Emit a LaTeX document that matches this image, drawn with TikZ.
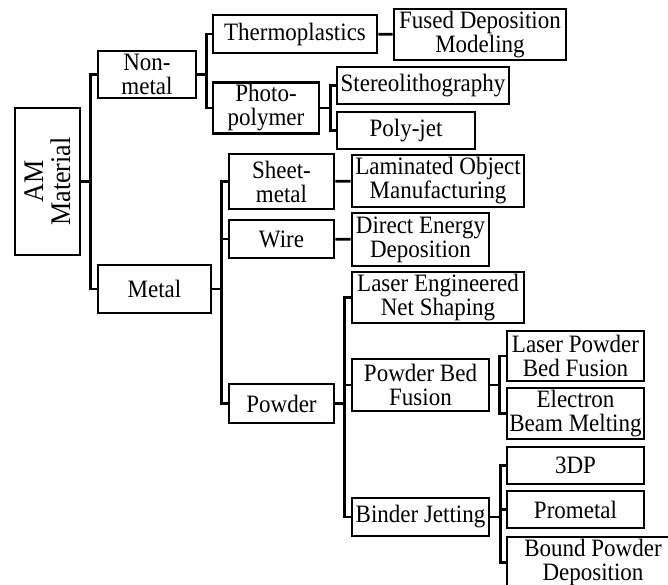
\documentclass[tikz,border=0pt]{standalone}
\usepackage{fontspec}
\setmainfont{Liberation Serif}[FakeStretch=0.92]
\usepackage{tikz}
\usetikzlibrary{positioning}

\begin{document}
\begin{tikzpicture}[
		x=0.5pt, y=-0.5pt,
		boite/.style={draw, line width=1.4pt, align=center, inner sep=1pt, font=\fontsize{12.5}{12}\selectfont},
		taille/.style 2 args={minimum width=#1*0.5pt, minimum height=#2*0.5pt},
		lien/.style={draw, line width=1.4pt} % traits des branches
		]
		\clip (0,0) rectangle (668,584);
		
		% La racine
		\node[boite, rotate=90, taille={147}{65}, font=\fontsize{14.2}{13.5}\selectfont] (am) at (47.5,181.5) {AM\\Material};
		
		% Niveau 1
		\node[boite, taille={98}{47}] (nonmetal) at (147,74.5) {Non-\\metal};
		\node[boite, taille={113}{48}] (metal) at (154.5,289) {Metal};
		
		% Niveau 2
		\node[boite, taille={164}{38}] (thermo) at (295,34) {Thermoplastics};
		\node[boite, taille={106}{50}] (photo) at (266,108) {Photo-\\polymer};
		\node[boite, taille={105}{55}] (sheet) at (281.5,181.5) {Sheet-\\metal};
		\node[boite, taille={105}{38}] (wire) at (281.5,239) {Wire};
		\node[boite, taille={105}{39}] (powder) at (281.5,403.5) {Powder};
		
		% Niveau 3
		\node[boite, taille={172}{51}] (fdm) at (480,34.5) {Fused Deposition\\Modeling};
		\node[boite, taille={172}{37}] (sla) at (423,85.5) {Stereolithography};
		\node[boite, taille={138}{37}] (polyjet) at (406,130.5) {Poly-jet};
		\node[boite, taille={172}{52}] (lom) at (438,181) {Laminated Object\\Manufacturing};
		\node[boite, taille={137}{53}] (ded) at (420.5,239.5) {Direct Energy\\Deposition};
		\node[boite, taille={172}{51}] (lens) at (438,297.5) {Laser Engineered\\Net Shaping};
		\node[boite, taille={137}{52}] (pbf) at (420.5,385) {Powder Bed\\Fusion};
		\node[boite, taille={137}{38}] (bj) at (420.5,517) {Binder Jetting};
		
		% Niveau 4
		\node[boite, taille={137}{50}] (lpbf) at (575.5,356) {Laser Powder\\Bed Fusion};
		\node[boite, taille={137}{51}] (ebm) at (575.5,413.5) {Electron\\Beam Melting};
		\node[boite, taille={137}{37}] (tdp) at (575.5,465.5) {3DP};
		\node[boite, taille={137}{37}] (prometal) at (575.5,509.5) {Prometal};
		\node[boite, taille={172}{51}] (bpd) at (593,562.5) {Bound Powder\\Deposition};
		
		% Les branches
		\draw[lien] (am.south) -- ++(9,0) |- (nonmetal.west);
		\draw[lien] (am.south) -- ++(9,0) |- (metal.west);
		\draw[lien] (nonmetal.east) -- ++(9,0) |- (thermo.west);
		\draw[lien] (nonmetal.east) -- ++(9,0) |- (photo.west);
		\draw[lien] (metal.east) -- ++(9,0) |- (sheet.west);
		\draw[lien] (metal.east) -- ++(9,0) |- (wire.west);
		\draw[lien] (metal.east) -- ++(9,0) |- (powder.west);
		\draw[lien] (thermo) -- (fdm);
		\draw[lien] (photo.east) -- ++(10,0) |- (sla.west);
		\draw[lien] (photo.east) -- ++(10,0) |- (polyjet.west);
		\draw[lien] (sheet) -- (lom);
		\draw[lien] (wire) -- (ded);
		\draw[lien] (powder.east) -- ++(9,0) |- (lens.west);
		\draw[lien] (powder.east) -- ++(9,0) |- (pbf.west);
		\draw[lien] (powder.east) -- ++(9,0) |- (bj.west);
		\draw[lien] (pbf.east) -- ++(9,0) |- (lpbf.west);
		\draw[lien] (pbf.east) -- ++(9,0) |- (ebm.west);
		\draw[lien] (bj.east) -- ++(10,0) |- (tdp.west);
		\draw[lien] (bj.east) -- ++(10,0) |- (prometal.west);
		\draw[lien] (bj.east) -- ++(10,0) |- (bpd.west);
	\end{tikzpicture}
\end{document}
